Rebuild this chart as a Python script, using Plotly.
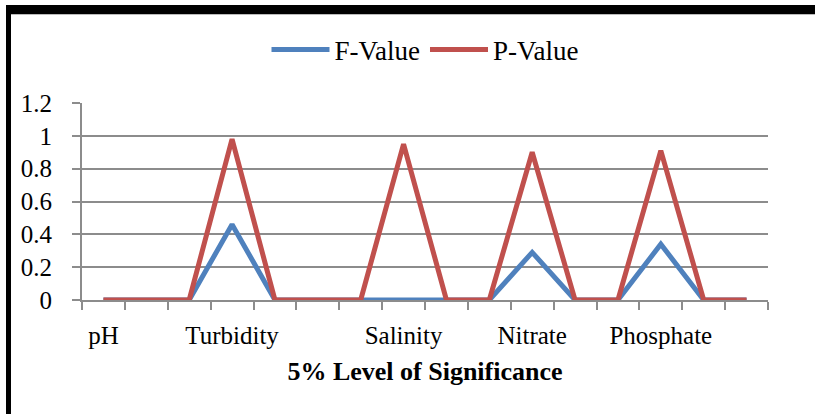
import plotly.graph_objects as go

# Water-quality parameters along the category axis (blank slots are spacer categories)
categories = ["pH", "", "", "Turbidity", "", "", "", "Salinity", "", "",
              "Nitrate", "", "", "Phosphate", "", ""]
f_value = [0, 0, 0, 0.46, 0, 0, 0, 0, 0, 0, 0.29, 0, 0, 0.34, 0, 0]
p_value = [0, 0, 0, 0.98, 0, 0, 0, 0.95, 0, 0, 0.90, 0, 0, 0.91, 0, 0]
y_ticks = [0, 0.2, 0.4, 0.6, 0.8, 1, 1.2]

W, H = 815, 414
L, R, T, B = 82, 47, 103, 114
PW, PH = W - L - R, H - T - B

def px_x(p):
    return (p - L) / PW

def px_y(p):
    return (H - B - p) / PH

x = list(range(1, len(categories) + 1))
label_pos = [i for i, c in zip(x, categories) if c]
label_txt = [c for c in categories if c]

FONT = "Liberation Serif, Times New Roman, serif"
GRID = "#8c8c8c"

fig = go.Figure()
fig.add_trace(go.Scatter(x=x, y=f_value, mode="lines", name="F-Value",
                         line=dict(color="#4F81BD", width=5)))
fig.add_trace(go.Scatter(x=x, y=p_value, mode="lines", name="P-Value",
                         line=dict(color="#C0504D", width=5)))

fig.update_layout(
    width=W, height=H,
    margin=dict(l=L, r=R, t=T, b=B),
    paper_bgcolor="white", plot_bgcolor="white",
    font=dict(family=FONT, color="black", size=25),
    showlegend=True,
    legend=dict(orientation="h", x=0.5, xanchor="center", y=px_y(50), yanchor="middle",
                font=dict(family=FONT, size=27), itemwidth=58, bgcolor="rgba(0,0,0,0)",
                tracegroupgap=0),
    xaxis=dict(
        range=[0.5, len(categories) + 0.5],
        tickvals=label_pos, ticktext=label_txt, ticks="",
        showgrid=False, zeroline=False,
        showline=True, linecolor=GRID, linewidth=2,
        tickfont=dict(family=FONT, size=25),
        ticklabelstandoff=12,
        minor=dict(tick0=0.5, dtick=1, ticks="outside", ticklen=8,
                   tickwidth=2, tickcolor=GRID, showgrid=False),
        title=dict(text="<b>5% Level of Significance</b>",
                   font=dict(family=FONT, size=26), standoff=14),
    ),
    yaxis=dict(
        range=[0, 1.2], tickvals=y_ticks,
        showgrid=True, gridcolor=GRID, gridwidth=2,
        zeroline=False,
        showline=True, linecolor=GRID, linewidth=2,
        ticks="outside", ticklen=8, tickwidth=2, tickcolor=GRID,
        tickfont=dict(family=FONT, size=25),
        ticklabelstandoff=15,
    ),
    shapes=[
        dict(type="rect", xref="paper", yref="paper",
             x0=px_x(6), x1=px_x(11), y0=px_y(414), y1=px_y(10),
             fillcolor="black", line=dict(width=0), layer="above"),
        dict(type="rect", xref="paper", yref="paper",
             x0=px_x(6), x1=px_x(815), y0=px_y(14), y1=px_y(5),
             fillcolor="black", line=dict(width=0), layer="above"),
        dict(type="line", xref="paper", yref="paper",
             x0=px_x(11), x1=px_x(815), y0=px_y(14.5), y1=px_y(14.5),
             line=dict(color="#bbbbbb", width=1), layer="above"),
    ],
)

fig.write_html("out.html")
